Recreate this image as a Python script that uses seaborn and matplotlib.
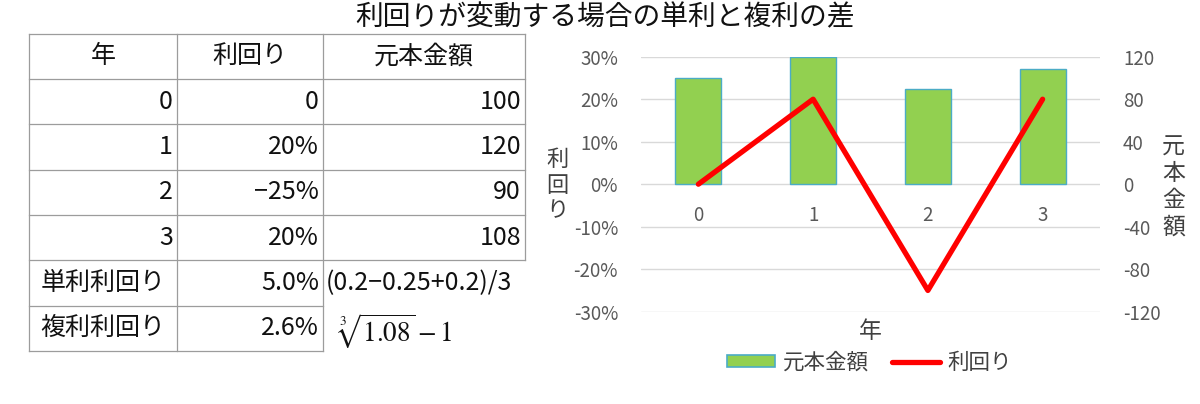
import matplotlib
matplotlib.use("Agg")
import matplotlib.pyplot as plt
import seaborn as sns
from matplotlib.patches import Patch
from matplotlib.lines import Line2D
from matplotlib.ticker import PercentFormatter

# ---------------- data ----------------
title = "利回りが変動する場合の単利と複利の差"
years = [0, 1, 2, 3]
rates = [0.0, 0.20, -0.25, 0.20]
principal = [100, 120, 90, 108]
rate_texts = ["0", "20%", "−25%", "20%"]
header = ["年", "利回り", "元本金額"]
summary_labels = ["単利利回り", "複利利回り"]
summary_values = ["5.0%", "2.6%"]
summary_formulas = ["(0.2−0.25+0.2)/3", r"$\sqrt[3]{1.08}-1$"]
rate_ticks = [-0.3, -0.2, -0.1, 0.0, 0.1, 0.2, 0.3]
amount_ticks = [-120, -80, -40, 0, 40, 80, 120]
bar_series = "元本金額"
line_series = "利回り"
xlabel = "年"

# ---------------- style ----------------
sns.set_theme(style="white")
plt.rcParams['font.family'] = ['Noto Sans CJK JP', 'DejaVu Sans']
plt.rcParams['axes.unicode_minus'] = False

W, H = 1200, 404
fig = plt.figure(figsize=(12, 4.04), dpi=100)

fig.text(605 / W, 1 - 17 / H, title, ha='center', va='center', fontsize=20, color='#111111')

# ---------------- table ----------------
tx0, ty0, tx1, ty1 = 29, 33.5, 525, 351
tw, th = tx1 - tx0, ty1 - ty0
tab = fig.add_axes([tx0 / W, 1 - ty1 / H, tw / W, th / H])
tab.set_xlim(0, tw)
tab.set_ylim(th, 0)
tab.axis('off')
col_edges = [0, 148, 294, 496]
nrows = 7
rh = th / nrows
row_edges = [i * rh for i in range(nrows + 1)]
lc, lw = '#9c9c9c', 0.9
for i, y in enumerate(row_edges):
    x_end = col_edges[3] if i <= 5 else col_edges[2]
    tab.plot([0, x_end], [y, y], color=lc, lw=lw, solid_capstyle='projecting', clip_on=False)
for j, x in enumerate(col_edges):
    y_end = row_edges[7] if j < 3 else row_edges[5]
    tab.plot([x, x], [0, y_end], color=lc, lw=lw, solid_capstyle='projecting', clip_on=False)

fs_tab = 18
pad = 4
tcol = '#111111'


def rc(r):
    return (row_edges[r] + row_edges[r + 1]) / 2


for j, h in enumerate(header):
    tab.text((col_edges[j] + col_edges[j + 1]) / 2, rc(0), h, ha='center', va='center',
             fontsize=fs_tab, color=tcol)
for i, (yr, rt, pr) in enumerate(zip(years, rate_texts, principal)):
    r = i + 1
    tab.text(col_edges[1] - pad, rc(r), str(yr), ha='right', va='center', fontsize=fs_tab, color=tcol)
    tab.text(col_edges[2] - pad, rc(r), rt, ha='right', va='center', fontsize=fs_tab, color=tcol)
    tab.text(col_edges[3] - pad, rc(r), str(pr), ha='right', va='center', fontsize=fs_tab, color=tcol)
for k, (lab, val, frm) in enumerate(zip(summary_labels, summary_values, summary_formulas)):
    r = 5 + k
    tab.text((col_edges[0] + col_edges[1]) / 2, rc(r), lab, ha='center', va='center',
             fontsize=fs_tab, color=tcol)
    tab.text(col_edges[2] - pad, rc(r), val, ha='right', va='center', fontsize=fs_tab, color=tcol)
    if k == 0:
        tab.text(col_edges[2] + 3, rc(r), frm, ha='left', va='center', fontsize=fs_tab, color=tcol)
    else:
        tab.text(col_edges[2] + 14, rc(r) + 3, frm, ha='left', va='center', fontsize=19.5,
                 color=tcol, math_fontfamily='stix')

# ---------------- chart ----------------
ax = fig.add_axes([641 / W, 1 - 311.7 / H, 459 / W, 255 / H])
ax2 = ax.twinx()

bar_color = '#92D050'
bar_edge = '#4BACC6'
line_color = '#FF0000'
tick_color = '#595959'
fs_tick = 13.5

sns.barplot(x=years, y=principal, ax=ax, color=bar_color, edgecolor=bar_edge, linewidth=1,
            width=0.4, saturation=1, errorbar=None)
sns.lineplot(x=years, y=rates, ax=ax2, color=line_color, linewidth=3.8,
             solid_joinstyle='round', solid_capstyle='round')

ax.set_xlim(-0.5, 3.5)
ax.set_ylim(-120, 120)
ax.set_yticks(amount_ticks)
ax2.set_ylim(-0.3, 0.3)
ax2.set_yticks(rate_ticks)
ax2.yaxis.set_major_formatter(PercentFormatter(1.0, decimals=0))

ax.yaxis.tick_right()
ax2.yaxis.tick_left()
ax.yaxis.set_label_position('right')
ax2.yaxis.set_label_position('left')

ax.yaxis.grid(True, color='#D9D9D9', lw=1)
ax.xaxis.grid(False)
ax.set_axisbelow(True)

for a in (ax, ax2):
    for s in a.spines.values():
        s.set_visible(False)
ax.spines['bottom'].set_position(('data', 0))

ax.tick_params(axis='x', length=0, pad=15, labelsize=fs_tick, labelcolor=tick_color)
ax.tick_params(axis='y', length=0, pad=16.5, labelsize=fs_tick, labelcolor=tick_color)
ax2.tick_params(axis='y', length=0, pad=16.5, labelsize=fs_tick, labelcolor=tick_color)
ax.set_xticks(range(len(years)))
ax.set_xticklabels([str(y) for y in years])

lab_color = '#404040'
ax2.set_ylabel("\n".join(line_series), rotation=0, fontsize=16, color=lab_color,
               va='center', ha='center', linespacing=1.13)
ax2.yaxis.set_label_coords((557.5 - 641) / 459, (311.7 - 185) / 255)
ax.set_ylabel("\n".join(bar_series), rotation=0, fontsize=16.5, color=lab_color,
              va='center', ha='center', linespacing=1.2)
ax.yaxis.set_label_coords((1173.5 - 641) / 459, (311.7 - 187) / 255)
ax.set_xlabel(xlabel, fontsize=16.5, color=lab_color)
ax.xaxis.set_label_coords(0.5, (311.7 - 332) / 255)
ax.xaxis.label.set_va('center')

handles = [Patch(facecolor=bar_color, edgecolor=bar_edge, linewidth=1.2),
           Line2D([], [], color=line_color, linewidth=3.8)]
fig.legend(handles=handles, labels=[bar_series, line_series], loc='center',
           bbox_to_anchor=(869.5 / W, 1 - 363 / H), ncol=2, frameon=False, fontsize=15.5,
           handlelength=2.25, handleheight=0.5, columnspacing=1.05, handletextpad=0.35,
           labelcolor=lab_color)

fig.savefig("out.png", dpi=100)
